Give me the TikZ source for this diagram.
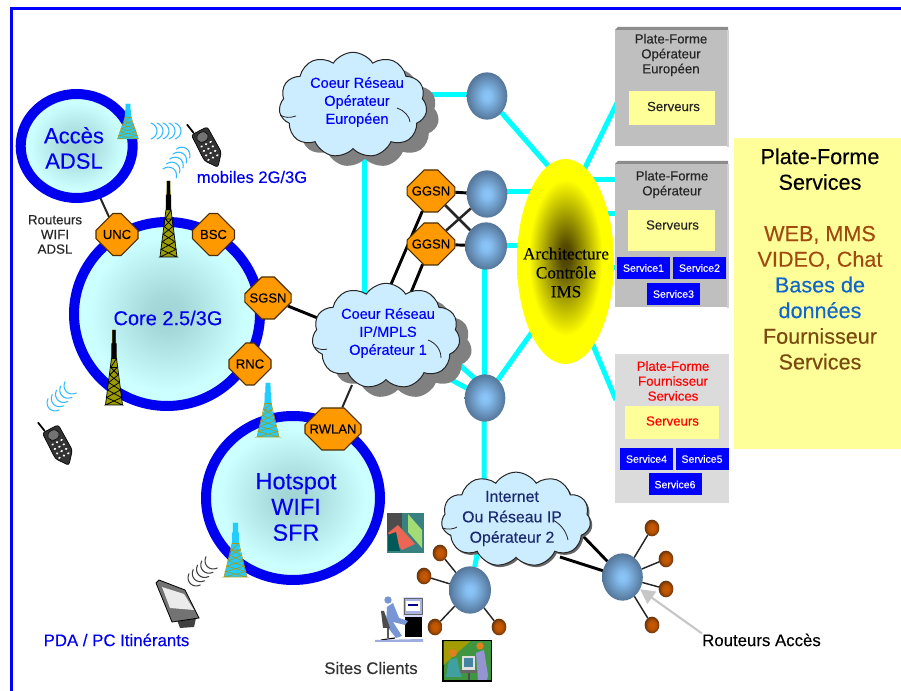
\documentclass[tikz,border=0pt]{standalone}
\usepackage{fontspec}
\setmainfont{Liberation Sans}[FakeBold=0.22]
\newfontfamily\timesfam{Liberation Serif}[FakeBold=0.15]
\usetikzlibrary{shapes.geometric,shapes.misc,shapes.symbols,shadows,arrows.meta}
\pgfdeclarelayer{bg}\pgfsetlayers{bg,main}
\definecolor{netblue}{HTML}{0000F0}
\definecolor{orng}{HTML}{FF9900}
\definecolor{cy}{HTML}{00FFFF}
\definecolor{cloudc}{HTML}{CCECFF}
\definecolor{yel}{HTML}{FFFF99}
\definecolor{wave}{HTML}{33BBFF}
\definecolor{navy}{HTML}{1A2A70}
\definecolor{rust}{HTML}{A04A10}
\definecolor{bdb}{HTML}{1166CC}
\definecolor{brn}{HTML}{7A4A10}
\definecolor{twc}{HTML}{22CCFF}
\definecolor{twl}{HTML}{A89A10}
\definecolor{olv}{HTML}{9C9C00}
\pgfdeclareradialshading{ringshade}{\pgfpoint{0bp}{0bp}}{rgb(0bp)=(0.63,0.83,0.83); rgb(5bp)=(0.65,0.85,0.85); rgb(21bp)=(0.8,1,1); rgb(50bp)=(0.8,1,1)}
\pgfdeclareradialshading{sphereshade}{\pgfpoint{0bp}{0bp}}{rgb(0bp)=(0.55,0.78,0.98); rgb(6bp)=(0.52,0.74,0.94); rgb(25bp)=(0.33,0.46,0.6); rgb(50bp)=(0.33,0.46,0.6)}
\pgfdeclareradialshading{leafshade}{\pgfpoint{0bp}{0bp}}{rgb(0bp)=(0.8,0.36,0); rgb(14bp)=(0.72,0.32,0); rgb(25bp)=(0.4,0.2,0.05); rgb(50bp)=(0.4,0.2,0.05)}
\pgfdeclareradialshading{archshade}{\pgfpoint{0bp}{1.5bp}}{rgb(0bp)=(0.28,0.24,0); rgb(3bp)=(0.34,0.3,0); rgb(19bp)=(1,1,0); rgb(50bp)=(1,1,0)}
\tikzset{
 ringnode/.style={ellipse,draw=netblue,line width=7.5pt,shading=ringshade,inner sep=0pt,outer sep=0pt},
 octa/.style={chamfered rectangle,chamfered rectangle xsep=9.2pt,chamfered rectangle ysep=9.2pt,draw=black!70!orng,line width=.8pt,fill=orng,minimum width=31.5pt,minimum height=31.5pt,inner sep=0pt,font=\fontsize{9.8}{12}\selectfont},
 sphere/.style={ellipse,shading=sphereshade,minimum width=30.5pt,minimum height=35.5pt,inner sep=0pt,outer sep=0pt},
 leaf/.style={ellipse,shading=leafshade,minimum width=11pt,minimum height=12.5pt,inner sep=0pt,outer sep=0pt},
 cloudn/.style={cloud,cloud puffs=11,cloud puff arc=115,cloud ignores aspect,draw=black!85,line width=.75pt,fill=cloudc,inner sep=0pt,minimum width=111pt,minimum height=79pt},
 shad/.style={drop shadow={shadow xshift=9pt,shadow yshift=-7.5pt,fill=black!50,opacity=1}},
 cytxt/.style={align=center,text=blue,font=\fontsize{10.9}{13.5}\selectfont,inner sep=0pt},
 pfbox/.style={rectangle,inner sep=0pt,outer sep=0pt},
 srv/.style={rectangle,fill=yel,inner sep=0pt,outer sep=0pt},
 svc/.style={rectangle,fill=blue,text=white,inner sep=0pt,outer sep=0pt,minimum width=39.75pt,minimum height=16.5pt,font=\fontsize{7.9}{9}\selectfont},
 pftxt/.style={align=center,text=black!85,inner sep=0pt,font=\fontsize{9.9}{11.2}\selectfont},
 lbl/.style={inner sep=0pt,font=\fontsize{12.6}{14}\selectfont},
 cyl/.style={draw=cy,line width=3.75pt},
 thk/.style={draw=black,line width=2.2pt},
 thn/.style={draw=black!85,line width=1.1pt},
 wavel/.style={line width=.8pt,line cap=round},
 crease/.style={draw=black!85,line width=.6pt}
}
% #1 x, #2 top, #3 base, #4 half width, #5 fill, #6 lattice, #7 mast, #8 lattice width
\newcommand\towerart[8]{%
 \begin{scope}[shift={(#1,#2)},x=#4*0.75pt,y=-0.75pt*(#3-#2)]
  \fill[#5] (-.22,0)--(.22,0)--(.25,.25)--(.38,.5)--(1,1)--(-1,1)--(-.38,.5)--(-.25,.25)--cycle;
  \fill[#7] (-.2,0)--(.2,0)--(.2,.18)--(.3,.18)--(.3,.38)--(-.3,.38)--(-.3,.18)--(-.2,.18)--cycle;
  \draw[#6,line width=#8] (-.38,.5)--(.5,.6)--(-.63,.7)--(.75,.8)--(-.88,.9)--(1,1)--(-1,1)--(.88,.9)--(-.75,.8)--(.63,.7)--(-.5,.6)--(.38,.5)--cycle;
  \draw[#6,line width=#8] (-.3,.38)--(.3,.38)--(-.38,.5) (.3,.38)--(1,1) (-.3,.38)--(-1,1);
 \end{scope}}
\newcommand\phoneart[2]{%
 \begin{scope}[shift={(#1,#2)},rotate=27]
  \draw[black,line width=1.3pt,line cap=round] (-6,-18)--(-8,-28);
  \fill[black!80,draw=black,line width=.5pt,rounded corners=2pt] (-9,-17)--(9,-17)--(10,12)--(0,24)--(-9,12)--cycle;
  \fill[black!55,draw=black,line width=.4pt] (0,-10) ellipse (6 and 5);
  \foreach \yy in {0,5,10,15} \foreach \xx in {-5,0,5} \fill[white] (\xx,\yy-2) ellipse (1.4 and 1.1);
 \end{scope}}
\newcommand\wavesart[4]{%
 \begin{scope}[shift={(#1,#2)},rotate=#3]
  \foreach \k in {-12,-6,0,6,12}
   \draw[#4,wavel] (\k-3,-8) .. controls (\k+5,-5) and (\k+5,5) .. (\k-3,8);
 \end{scope}}
\begin{document}
\begin{tikzpicture}[x=0.75pt,y=-0.75pt]
\useasboundingbox (0,0) rectangle (901,691);
\begin{pgfonlayer}{bg}
\fill[white] (0,0) rectangle (901,691);
\end{pgfonlayer}
% frame
\fill[blue] (10,7) rectangle (901,10);
\fill[blue] (10,7) rectangle (12.7,691);

% panel
\node[rectangle,fill=yel,anchor=north west,minimum width=125.25pt,minimum height=233.25pt,inner sep=0pt] (panel) at (734,138) {};
\node[inner sep=0pt,align=center,font=\fontsize{16.2}{19.25}\selectfont] (paneltxt) at (820,259) {Plate-Forme\\Services\\[19.25pt]\textcolor{rust}{WEB, MMS}\\\textcolor{rust}{VIDEO, Chat}\\\textcolor{bdb}{Bases de}\\\textcolor{bdb}{données}\\\textcolor{brn}{Fournisseur}\\\textcolor{brn}{Services}};

% rings
\node[ringnode,minimum width=84pt,minimum height=78pt] (adsl) at (76.7,146) {};
\node[ringnode,minimum width=139.5pt,minimum height=138pt] (core) at (167,314) {};
\node[ringnode,minimum width=130.5pt,minimum height=123pt] (hot) at (293,498) {};
\node[inner sep=0pt,align=center,text=netblue,font=\fontsize{16.5}{19}\selectfont] (adslt) at (74,148) {Accès\\ADSL};
\node[inner sep=0pt,text=netblue,font=\fontsize{15}{18}\selectfont] (coret) at (168,318) {Core 2.5/3G};
\node[inner sep=0pt,align=center,text=netblue,font=\fontsize{17.6}{19.3}\selectfont] (hott) at (296,507) {Hotspot\\WIFI\\SFR};

% octagons
\node[octa] (unc) at (117,234.5) {UNC};
\node[octa] (bsc) at (213.5,234.5) {BSC};
\node[octa] (sgsn) at (268,298) {SGSN};
\node[octa] (rnc) at (250,364) {RNC};
\node[octa] (g1) at (431,191) {GGSN};
\node[octa] (g2) at (431,244) {GGSN};
\node[octa,minimum width=39pt] (rw) at (333,429) {RWLAN};

% clouds
\node[cloudn,shad] (c1) at (353,105) {};
\node[cloudn,shad] (c2) at (386,336) {};
\node[cloudn,drop shadow={shadow xshift=1.5pt,shadow yshift=-1.5pt,fill=black!60,opacity=1},minimum width=112pt,minimum height=71pt] (c3) at (516,519.5) {};
\draw[crease] (280,115) .. controls (285,118) and (290,118) .. (296,116);
\draw[crease] (397,108) .. controls (404,110) and (410,117) .. (410,122);
\draw[crease] (314,347) .. controls (320,350) and (325,350) .. (327,349);
\draw[crease] (428,340) .. controls (436,343) and (441,350) .. (441,358);
\draw[crease] (442,528) .. controls (448,530) and (454,529) .. (457,527);
\draw[crease] (553,520) .. controls (560,524) and (566,530) .. (568,540);
\node[cytxt] (c1t) at (357,102) {Coeur Réseau\\Opérateur\\Européen};
\node[cytxt] (c2t) at (388,333) {Coeur Réseau\\IP/MPLS\\Opérateur 1};
\node[cytxt,text=navy,font=\fontsize{11.9}{15.3}\selectfont] (c3t) at (512,518.5) {Internet\\Ou Réseau IP\\Opérateur 2};

% spheres
\node[sphere] (s0) at (487,96) {};
\node[sphere] (s1) at (487,194) {};
\node[sphere,minimum width=31.5pt] (s2) at (486,246) {};
\node[sphere] (s3) at (485,398) {};
\node[sphere,minimum width=31.5pt] (s4) at (470,590) {};
\node[sphere] (s5) at (622.5,577) {};

% leaves
\node[leaf] (l1) at (440,553) {};
\node[leaf] (l2) at (424,576) {};
\node[leaf] (l3) at (435,627) {};
\node[leaf] (l4) at (499,627) {};
\node[leaf] (l5) at (652,528) {};
\node[leaf] (l6) at (666,559) {};
\node[leaf] (l7) at (666,589) {};
\node[leaf] (l8) at (652,625) {};

% IMS ellipse
\node[ellipse,shading=archshade,minimum width=72.75pt,minimum height=153.75pt,inner sep=0pt] (arch) at (565.5,261.5) {};
\node[inner sep=0pt,align=center,font=\timesfam\fontsize{12.9}{14.2}\selectfont] (archt) at (566,272.5) {Architecture\\Contrôle\\IMS};

% platform boxes
\foreach \nm/\xa/\ya/\xb/\yb in {pf1/615/30/727/146,pf2/615/164/727/307}{
 \fill[black!45] (\xa,\ya) -- (\xa+3,\ya-3) -- (\xb+1,\ya-3) -- (\xb+1,\ya) -- cycle;
 \node[pfbox,fill=black!25,anchor=north west,minimum width=(\xb-\xa)*0.75pt,minimum height=(\yb-\ya)*0.75pt] (\nm) at (\xa,\ya) {};
 \fill[black!18] (\xb,\ya) rectangle (\xb+1.5,\yb+1);
}
\node[pfbox,fill=black!14,anchor=north west,minimum width=85.5pt,minimum height=111.75pt] (pf3) at (615,354) {};
\node[pftxt] (pf1t) at (671,55) {Plate-Forme\\Opérateur\\Européen};
\node[pftxt] (pf2t) at (672,184.5) {Plate-Forme\\Opérateur};
\node[pftxt,text=red] (pf3t) at (673,381) {Plate-Forme\\Fournisseur\\Services};
\node[srv,anchor=north west,minimum width=64.5pt,minimum height=25.5pt] (sv1) at (629,91) {};
\node[srv,anchor=north west,minimum width=65.6pt,minimum height=30.75pt] (sv2) at (627.5,210) {};
\node[srv,anchor=north west,minimum width=70.5pt,minimum height=24.75pt] (sv3) at (625,406) {};
\node[pftxt] (sv1t) at (673.5,106.5) {Serveurs};
\node[pftxt] (sv2t) at (672.5,225) {Serveurs};
\node[pftxt,text=red] (sv3t) at (672.5,421) {Serveurs};
\node[svc] (a1) at (643.5,268) {Service1};
\node[svc] (a2) at (699.5,268) {Service2};
\node[svc] (a3) at (673.5,294) {Service3};
\node[svc] (a4) at (646.5,459) {Service4};
\node[svc] (a5) at (702,459) {Service5};
\node[svc] (a6) at (675,484.5) {Service6};

% free connector ends
\coordinate (v1) at (364,130);
\coordinate (v2) at (364,300);
\coordinate (e0) at (400,95);
\coordinate (e00) at (490,95);
\coordinate (e1) at (550,168);
\coordinate (e2a) at (490,192);
\coordinate (e2) at (560,192);
\coordinate (e3) at (560,246);
\coordinate (e4) at (540,321);
\coordinate (e5) at (580,178);
\coordinate (b1) at (617,103);
\coordinate (e6) at (590,180);
\coordinate (b2) at (616,180);
\coordinate (e7) at (600,214);
\coordinate (b3) at (618,214);
\coordinate (e8) at (605,268);
\coordinate (b4) at (616,268);
\coordinate (e9) at (590,338);
\coordinate (b5) at (616,400);
\coordinate (d1) at (445,352);
\coordinate (d1b) at (490,392);
\coordinate (d2) at (435,371);
\coordinate (d3) at (484,520);
\coordinate (h1) at (330,323);
\coordinate (h2) at (386,296);
\coordinate (h3) at (410,295);
\coordinate (h4) at (352,385);
\coordinate (i1) at (560,557);
\coordinate (i2) at (582,535);
\coordinate (ha) at (484,240);

\begin{pgfonlayer}{bg}
 \draw[cyl] (e0)--(e00);
 \draw[cyl] (s0)--(e1);
 \draw[cyl] (v1)--(v2);
 \draw[cyl] (e2a)--(e2);
 \draw[cyl] (s2)--(e3);
 \draw[cyl] (ha)--(ha |- s3);
 \draw[cyl] (s3)--(e4);
 \draw[cyl] (e5)--(b1);
 \draw[cyl] (e6)--(b2);
 \draw[cyl] (e7)--(b3);
 \draw[cyl] (e8)--(b4);
 \draw[cyl] (e9)--(b5);
 \draw[cyl] (d1)--(d1b);
 \draw[cyl] (d2)--(s3);
 \draw[cyl] (s3 -| d3)--(d3)--(s4);
 \draw[thk] (g1)--(s1);
 \draw[thk] (g2)--(s2);
 \draw[thn,line width=1.9pt] (g1)--(s2);
 \draw[thn,line width=1.9pt] (g2)--(s1);
 \draw[thk] (g1)--(h2);
 \draw[thk] (g2)--(h3);
 \draw[thk] (sgsn)--(h1);
 \draw[thn,line width=1.5pt] (rw)--(h4);
 \draw[thn,line width=1.5pt] (adsl)--(unc);
 \draw[thk] (s5)--(i1);
 \draw[thk] (s5)--(i2);
 \foreach \l in {l1,l2,l3,l4} \draw[thn] (s4)--(\l);
 \foreach \l in {l5,l6,l7,l8} \draw[thn] (s5)--(\l);
\end{pgfonlayer}

% towers
\towerart{128}{104}{139}{10.5}{twc}{twl}{twc}{.35pt}
\towerart{168.5}{181}{257}{8.5}{olv}{black}{black}{.55pt}
\towerart{114}{330}{405}{8.5}{olv}{black}{black}{.55pt}
\towerart{268}{383}{437}{11}{twc}{twl}{twc}{.45pt}
\towerart{235.5}{523}{577}{11.5}{twc}{twl}{twc}{.45pt}

% waves and phones
\wavesart{166}{131}{0}{wave}
\wavesart{178}{161}{56}{wave}
\wavesart{60}{398}{225}{wave}
\wavesart{201}{573}{225}{black!75}
\phoneart{207}{146}
\phoneart{58}{444}

% PDA
\fill[black!75] (177,620)--(196,618)--(194,627)--(180,628)--cycle;
\fill[black!55,draw=black,line width=.6pt] (156,583)--(159,580)--(185,590)--(199,618)--(172,622)--cycle;
\fill[black!8] (162,587)--(184,594)--(194,610)--(170,608)--cycle;

% labels
\node[inner sep=0pt,align=center,text=black!85,font=\fontsize{10}{11}\selectfont] (rta) at (55,234.5) {Routeurs\\WIFI\\ADSL};
\node[lbl,text=netblue,font=\fontsize{12.4}{14}\selectfont] (mob) at (252,177) {mobiles 2G/3G};
\node[lbl,text=netblue] (pda) at (116.5,640) {PDA / PC Itinérants};
\node[lbl,text=black!80] (sit) at (371,668) {Sites Clients};
\node[lbl] (ra) at (761.5,640) {Routeurs Accès};
\draw[black!22,line width=1.6pt,-{Triangle[length=11pt,width=11pt]}] (ra.north west)--(s5.-35);

% clip art 1
\begin{scope}
 \fill[teal!55!gray] (387,513) rectangle (424,553);
 \fill[black!70] (387,513) rectangle (402,535);
 \fill[yellow!40!green!60] (408,514)--(422,530)--(422,548)--(408,532)--cycle;
 \fill[red!60!brown!75] (388,533)--(398,525)--(415,544)--(402,550)--cycle;
 \fill[teal!70!black] (388,535)--(396,532)--(400,551)--(388,551)--cycle;
\end{scope}
% clip art 2 (man at computer)
\begin{scope}
 \fill[blue!15] (403,597) rectangle (423,617);
 \draw[black!60,fill=cyan!35!blue!35,line width=.4pt] (404,598) rectangle (422,614);
 \fill[white] (406,601) rectangle (420,611);
 \fill[blue!55!black] (408,604) rectangle (418,606);
 \fill[black] (405,617) rectangle (422,637);
 \fill[cyan!40!blue!55] (387,607)--(393,603)--(399,618)--(408,621)--(405,625)--(393,622)--(402,636)--(396,638)--(386,625)--cycle;
 \fill[cyan!40!blue!55] (388,600) circle (3.7);
 \fill[black!70] (381,611)--(384,611)--(390,628)--(383,628)--cycle;
 \draw[black,line width=.8pt] (388,628)--(388,638) (381,640)--(395,638);
 \fill[cyan!40!blue!40] (375,640)--(423,639)--(423,642)--(375,642)--cycle;
\end{scope}
% clip art 3 (two people)
\begin{scope}
 \fill[black] (442,640) rectangle (492,682);
 \fill[green!45!black!75] (443.5,641.5) rectangle (490.5,680.5);
 \fill[olive!80!yellow] (443.5,641.5)--(470,641.5)--(443.5,665)--cycle;
 \fill[white!75!gray] (462,656) rectangle (475,670);
 \fill[cyan!60!black] (464,658) rectangle (473,667);
 \fill[black!60] (456,670) rectangle (482,673);
 \draw[black!70,line width=.8pt] (469,673)--(469,680);
 \fill[teal!75] (449,660)--(457,658)--(460,672)--(462,677)--(446,677)--cycle;
 \fill[brown!50!orange] (453,653) circle (4);
 \fill[gray!60!blue!60] (476,653)--(484,650)--(488,675)--(487,680)--(478,680)--cycle;
 \fill[brown!45!orange] (480,646) circle (3.7);
\end{scope}
\end{tikzpicture}
\end{document}
